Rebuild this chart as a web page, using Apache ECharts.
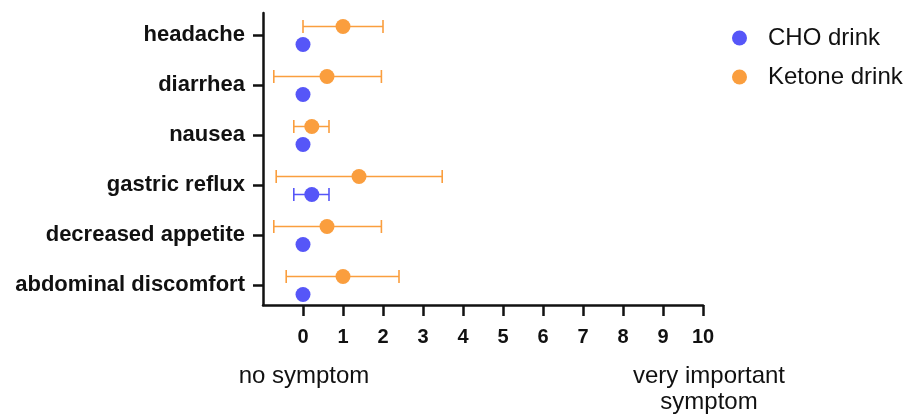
<!DOCTYPE html>
<html>
<head>
<meta charset="utf-8">
<script src="https://cdn.jsdelivr.net/npm/echarts@6/dist/echarts.min.js"></script>
<style>
  html, body { margin: 0; padding: 0; background: #fff; }
  #main { width: 909px; height: 416px; }
</style>
</head>
<body>
<div id="main"></div>
<script>
// symptoms, bottom to top
var symptoms = ['abdominal discomfort', 'decreased appetite', 'gastric reflux', 'nausea', 'diarrhea', 'headache'];
var xTicks = [0, 1, 2, 3, 4, 5, 6, 7, 8, 9, 10];

// CHO drink: mean, lower and upper end of the error bar
var choMean = [0, 0, 0.22, 0, 0, 0];
var choLow = [null, null, -0.23, null, null, null];
var choHigh = [null, null, 0.65, null, null, null];

// Ketone drink
var ketMean = [1.0, 0.6, 1.4, 0.22, 0.6, 1.0];
var ketLow = [-0.42, -0.73, -0.67, -0.23, -0.73, 0.0];
var ketHigh = [2.4, 1.96, 3.48, 0.65, 1.96, 2.0];

var BLUE = '#5656F8';
var ORANGE = '#FA9E3E';
var FONT = '"Liberation Sans", Arial, sans-serif';

// vertical shift of each group inside its row
var choShift = -0.19;
var ketShift = 0.17;

function points(mean, shift) {
    return mean.map(function (v, i) { return [v, i + shift]; });
}
function bars(low, high, shift) {
    var out = [];
    low.forEach(function (v, i) {
        if (v != null) out.push([v, high[i], i + shift]);
    });
    return out;
}
function errorBar(color) {
    return function (params, api) {
        var a = api.coord([api.value(0), api.value(2)]);
        var b = api.coord([api.value(1), api.value(2)]);
        var h = 6.5;
        var st = { stroke: color, lineWidth: 1.6 };
        return {
            type: 'group',
            children: [
                { type: 'line', shape: { x1: a[0], y1: a[1], x2: b[0], y2: b[1] }, style: st },
                { type: 'line', shape: { x1: a[0], y1: a[1] - h, x2: a[0], y2: a[1] + h }, style: st },
                { type: 'line', shape: { x1: b[0], y1: b[1] - h, x2: b[0], y2: b[1] + h }, style: st }
            ]
        };
    };
}

var chart = echarts.init(document.getElementById('main'));
var option = {
    animation: false,
    grid: { left: 263, right: 206, top: 13, bottom: 111 },
    legend: {
        orient: 'vertical',
        left: 727,
        top: 21,
        itemGap: 15,
        itemWidth: 15,
        itemHeight: 15,
        icon: 'circle',
        data: ['CHO drink', 'Ketone drink'],
        textStyle: { fontFamily: FONT, fontSize: 24, color: '#111', lineHeight: 24, padding: [0, 0, 0, 16] }
    },
    xAxis: {
        type: 'value',
        min: -1,
        max: 10,
        splitLine: { show: false },
        axisLine: { onZero: false, lineStyle: { color: '#111', width: 2.5 } },
        axisTick: { customValues: xTicks, length: 11, lineStyle: { color: '#111', width: 2.5 } },
        axisLabel: {
            customValues: xTicks,
            margin: 22,
            fontFamily: FONT, fontSize: 20, fontWeight: 'bold', color: '#111'
        }
    },
    yAxis: {
        type: 'value',
        min: -0.4,
        max: 5.44,
        splitLine: { show: false },
        axisLine: { show: true, onZero: false, lineStyle: { color: '#111', width: 2.5 } },
        axisTick: { show: true, customValues: [0, 1, 2, 3, 4, 5], length: 10, lineStyle: { color: '#111', width: 2.5 } },
        axisLabel: {
            customValues: [0, 1, 2, 3, 4, 5],
            margin: 18,
            fontFamily: FONT, fontSize: 22, fontWeight: 'bold', color: '#111',
            padding: [3, 0, 0, 0],
            formatter: function (v) { return symptoms[Math.round(v)]; }
        }
    },
    graphic: [
        { type: 'text', x: 304, y: 376, style: { text: 'no symptom', font: '24px ' + FONT, fill: '#111', align: 'center', verticalAlign: 'middle' } },
        { type: 'text', x: 709, y: 389, style: { text: 'very important\nsymptom', font: '24px ' + FONT, fill: '#111', align: 'center', verticalAlign: 'middle', lineHeight: 26 } }
    ],
    series: [
        {
            type: 'custom', name: 'CHO drink', renderItem: errorBar(BLUE),
            data: bars(choLow, choHigh, choShift), itemStyle: { color: BLUE }, z: 2
        },
        {
            type: 'custom', name: 'Ketone drink', renderItem: errorBar(ORANGE),
            data: bars(ketLow, ketHigh, ketShift), itemStyle: { color: ORANGE }, z: 2
        },
        {
            type: 'scatter', name: 'CHO drink', symbolSize: 15,
            data: points(choMean, choShift), itemStyle: { color: BLUE, opacity: 1 }, z: 3
        },
        {
            type: 'scatter', name: 'Ketone drink', symbolSize: 15,
            data: points(ketMean, ketShift), itemStyle: { color: ORANGE, opacity: 1 }, z: 3
        }
    ]
};
chart.setOption(option);
</script>
</body>
</html>
